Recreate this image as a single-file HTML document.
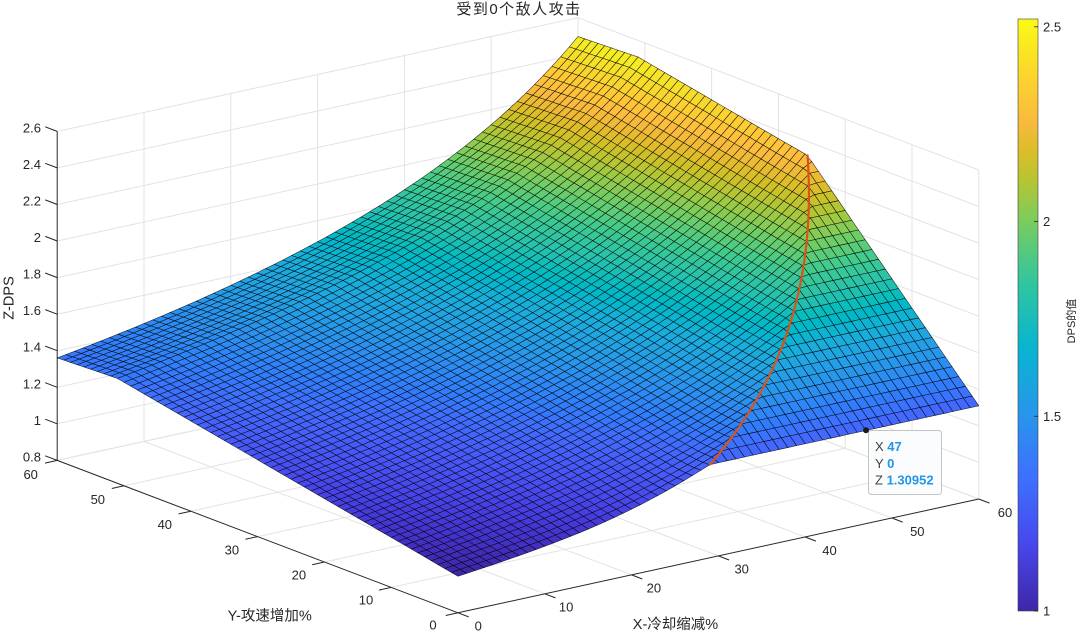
<!DOCTYPE html>
<html><head><meta charset="utf-8">
<style>
html,body{margin:0;padding:0;background:#fff;overflow:hidden;width:1080px;height:634px;}
svg{display:block;}
text{font-family:"Liberation Sans","Noto Sans CJK SC",sans-serif;fill:#262626;}
</style></head>
<body>
<svg id="chart" width="1080" height="634" viewBox="0 0 1080 634" xmlns="http://www.w3.org/2000/svg">
<defs>
<linearGradient id="cbg" x1="0" y1="0" x2="0" y2="1">
<stop offset="0" stop-color="rgb(249,251,21)"/>
<stop offset="0.111" stop-color="rgb(252,207,48)"/>
<stop offset="0.175" stop-color="rgb(248,186,61)"/>
<stop offset="0.222" stop-color="rgb(220,189,41)"/>
<stop offset="0.27" stop-color="rgb(185,196,49)"/>
<stop offset="0.333" stop-color="rgb(129,204,89)"/>
<stop offset="0.444" stop-color="rgb(49,198,159)"/>
<stop offset="0.556" stop-color="rgb(8,181,208)"/>
<stop offset="0.667" stop-color="rgb(39,150,235)"/>
<stop offset="0.778" stop-color="rgb(62,111,255)"/>
<stop offset="0.889" stop-color="rgb(71,71,235)"/>
<stop offset="1" stop-color="rgb(62,38,168)"/>
</linearGradient>
<linearGradient id="fbg" x1="0" y1="1" x2="0" y2="0">
<stop offset="0" stop-color="rgb(62,60,210)"/>
<stop offset="0.4" stop-color="rgb(45,140,240)"/>
<stop offset="0.7" stop-color="rgb(60,195,160)"/>
<stop offset="1" stop-color="rgb(249,240,30)"/>
</linearGradient>
</defs>
<rect width="1080" height="634" fill="#fff"/>

<g stroke="#e3e3e3" stroke-width="1" fill="none">
<line x1="544.8" y1="593.8" x2="144" y2="441.4"/>
<line x1="631.6" y1="574.9" x2="230.8" y2="422.5"/>
<line x1="718.4" y1="555.9" x2="317.6" y2="403.5"/>
<line x1="805.2" y1="537" x2="404.4" y2="384.6"/>
<line x1="892" y1="518" x2="491.2" y2="365.6"/>
<line x1="978.8" y1="499" x2="578" y2="346.6"/>
<line x1="391.2" y1="587.4" x2="912" y2="473.6"/>
<line x1="324.4" y1="562" x2="845.2" y2="448.2"/>
<line x1="257.6" y1="536.6" x2="778.4" y2="422.8"/>
<line x1="190.8" y1="511.2" x2="711.6" y2="397.4"/>
<line x1="124" y1="485.8" x2="644.8" y2="372"/>
<line x1="57.2" y1="460.4" x2="578" y2="346.6"/>
<line x1="144" y1="441.4" x2="144" y2="112.3"/>
<line x1="230.8" y1="422.5" x2="230.8" y2="93.4"/>
<line x1="317.6" y1="403.5" x2="317.6" y2="74.4"/>
<line x1="404.4" y1="384.6" x2="404.4" y2="55.5"/>
<line x1="491.2" y1="365.6" x2="491.2" y2="36.5"/>
<line x1="578" y1="346.6" x2="578" y2="17.6"/>
<line x1="978.8" y1="499" x2="978.8" y2="170"/>
<line x1="912" y1="473.6" x2="912" y2="144.6"/>
<line x1="845.2" y1="448.2" x2="845.2" y2="119.2"/>
<line x1="778.4" y1="422.8" x2="778.4" y2="93.8"/>
<line x1="711.6" y1="397.4" x2="711.6" y2="68.4"/>
<line x1="644.8" y1="372" x2="644.8" y2="43"/>
<polyline points="57.2,460.4 578,346.6 978.8,499"/>
<polyline points="57.2,423.8 578,310 978.8,462.4"/>
<polyline points="57.2,387.3 578,273.5 978.8,425.9"/>
<polyline points="57.2,350.7 578,236.9 978.8,389.3"/>
<polyline points="57.2,314.2 578,200.4 978.8,352.8"/>
<polyline points="57.2,277.6 578,163.8 978.8,316.2"/>
<polyline points="57.2,241 578,127.2 978.8,279.6"/>
<polyline points="57.2,204.5 578,90.7 978.8,243.1"/>
<polyline points="57.2,167.9 578,54.1 978.8,206.5"/>
<polyline points="57.2,131.4 578,17.6 978.8,170"/>
</g>

<g stroke="#262626" stroke-width="1" fill="none">
<line x1="57.2" y1="460.4" x2="57.2" y2="131.4"/>
<line x1="57.2" y1="460.4" x2="458" y2="612.8"/>
<line x1="458" y1="612.8" x2="978.8" y2="499"/>
<line x1="57.2" y1="460.4" x2="45.2" y2="455.8"/>
<line x1="57.2" y1="423.8" x2="45.2" y2="419.2"/>
<line x1="57.2" y1="387.3" x2="45.2" y2="382.7"/>
<line x1="57.2" y1="350.7" x2="45.2" y2="346.1"/>
<line x1="57.2" y1="314.2" x2="45.2" y2="309.6"/>
<line x1="57.2" y1="277.6" x2="45.2" y2="273"/>
<line x1="57.2" y1="241" x2="45.2" y2="236.4"/>
<line x1="57.2" y1="204.5" x2="45.2" y2="199.9"/>
<line x1="57.2" y1="167.9" x2="45.2" y2="163.3"/>
<line x1="57.2" y1="131.4" x2="45.2" y2="126.8"/>
<line x1="458" y1="612.8" x2="445.8" y2="615.5"/>
<line x1="391.2" y1="587.4" x2="379" y2="590.1"/>
<line x1="324.4" y1="562" x2="312.2" y2="564.7"/>
<line x1="257.6" y1="536.6" x2="245.4" y2="539.3"/>
<line x1="190.8" y1="511.2" x2="178.6" y2="513.9"/>
<line x1="124" y1="485.8" x2="111.8" y2="488.5"/>
<line x1="57.2" y1="460.4" x2="45" y2="463.1"/>
<line x1="458" y1="612.8" x2="468.7" y2="616.9"/>
<line x1="544.8" y1="593.8" x2="555.5" y2="597.9"/>
<line x1="631.6" y1="574.9" x2="642.3" y2="579"/>
<line x1="718.4" y1="555.9" x2="729.1" y2="560"/>
<line x1="805.2" y1="537" x2="815.9" y2="541.1"/>
<line x1="892" y1="518" x2="902.7" y2="522.1"/>
<line x1="978.8" y1="499" x2="989.5" y2="503.1"/>
</g>

<polygon id="fallback" points="458,576 709.7,464.6 978.8,405.8 807.5,155.3 638.1,56.9 578,36.5 448,159 317.6,241.7 57.2,357.9 117.3,378.4" fill="url(#fbg)" stroke="#333" stroke-width="0.5"/>

<g id="surf" stroke="#000" stroke-opacity="0.85" stroke-width="0.55" stroke-linejoin="round"></g>
<polyline id="redline" points="" fill="none" stroke="#D95319" stroke-width="2.2" stroke-linecap="round" stroke-linejoin="round"/>

<g font-size="13" text-anchor="end">
<text x="41" y="461.4">0.8</text>
<text x="41" y="424.8">1</text>
<text x="41" y="388.3">1.2</text>
<text x="41" y="351.7">1.4</text>
<text x="41" y="315.2">1.6</text>
<text x="41" y="278.6">1.8</text>
<text x="41" y="242">2</text>
<text x="41" y="205.5">2.2</text>
<text x="41" y="168.9">2.4</text>
<text x="41" y="132.4">2.6</text>
</g>
<g font-size="13" text-anchor="middle">
<text x="433" y="629.6">0</text>
<text x="366" y="604.5">10</text>
<text x="298.9" y="579.4">20</text>
<text x="231.9" y="554.3">30</text>
<text x="164.8" y="529.2">40</text>
<text x="97.8" y="504.1">50</text>
<text x="30.7" y="479">60</text>
<text x="478.3" y="630.6">0</text>
<text x="566.1" y="611.6">10</text>
<text x="653.9" y="592.7">20</text>
<text x="741.7" y="573.7">30</text>
<text x="829.5" y="554.8">40</text>
<text x="917.3" y="535.8">50</text>
<text x="1005" y="516.9">60</text>
</g>

<text x="519" y="14" font-size="15" text-anchor="middle" letter-spacing="1.5">受到0个敌人攻击</text>
<text x="675.5" y="629" font-size="14.5" text-anchor="middle">X-冷却缩减%</text>
<text x="269.7" y="620.5" font-size="14.5" text-anchor="middle">Y-攻速增加%</text>
<text transform="translate(13.5,298) rotate(-90)" font-size="14.5" text-anchor="middle">Z-DPS</text>

<rect x="1018" y="19" width="20" height="592" fill="url(#cbg)" stroke="#404040" stroke-width="0.6"/>
<g stroke="#262626" stroke-width="0.8">
<line x1="1038" y1="26.8" x2="1034" y2="26.8"/>
<line x1="1038" y1="221.5" x2="1034" y2="221.5"/>
<line x1="1038" y1="416.3" x2="1034" y2="416.3"/>
<line x1="1038" y1="611" x2="1034" y2="611"/>
</g>
<g font-size="13">
<text x="1043" y="31.4">2.5</text>
<text x="1043" y="226.1">2</text>
<text x="1043" y="420.9">1.5</text>
<text x="1043" y="615.6">1</text>
</g>
<text transform="translate(1075,321) rotate(-90)" font-size="11" text-anchor="middle">DPS的值</text>

<rect x="868.5" y="430.5" width="73" height="64" rx="3" ry="3" fill="#fbfcfe" fill-opacity="0.96" stroke="#c4c4c4" stroke-width="1"/>
<circle cx="866" cy="430.3" r="3" fill="#1a1a1a"/>
<g font-size="13">
<text x="875" y="451"><tspan fill="#404040">X </tspan><tspan fill="#1f96e8" font-weight="bold">47</tspan></text>
<text x="875" y="468"><tspan fill="#404040">Y </tspan><tspan fill="#1f96e8" font-weight="bold">0</tspan></text>
<text x="875" y="484.5"><tspan fill="#404040">Z </tspan><tspan fill="#1f96e8" font-weight="bold">1.30952</tspan></text>
</g>
</svg>
<script>
(function(){
var PAR=[[0.2422,0.1504,0.6603],[0.2504,0.1650,0.7076],[0.2578,0.1818,0.7511],[0.2647,0.1978,0.7952],[0.2706,0.2147,0.8364],[0.2751,0.2342,0.8710],[0.2783,0.2559,0.8991],[0.2803,0.2782,0.9221],[0.2813,0.3006,0.9414],[0.2810,0.3228,0.9579],[0.2795,0.3447,0.9717],[0.2760,0.3667,0.9829],[0.2699,0.3892,0.9906],[0.2602,0.4123,0.9952],[0.2440,0.4358,0.9988],[0.2206,0.4603,0.9973],[0.1963,0.4847,0.9892],[0.1834,0.5074,0.9798],[0.1786,0.5289,0.9682],[0.1764,0.5499,0.9520],[0.1687,0.5703,0.9359],[0.1540,0.5902,0.9218],[0.1460,0.6091,0.9079],[0.1380,0.6276,0.8973],[0.1248,0.6459,0.8883],[0.1113,0.6635,0.8763],[0.0952,0.6798,0.8598],[0.0689,0.6948,0.8394],[0.0297,0.7082,0.8163],[0.0036,0.7203,0.7917],[0.0067,0.7312,0.7660],[0.0433,0.7411,0.7394],[0.0964,0.7500,0.7120],[0.1408,0.7584,0.6842],[0.1717,0.7670,0.6554],[0.1938,0.7758,0.6251],[0.2161,0.7843,0.5923],[0.2470,0.7918,0.5567],[0.2906,0.7973,0.5188],[0.3406,0.8008,0.4789],[0.3909,0.8029,0.4354],[0.4456,0.8024,0.3909],[0.5044,0.7993,0.3480],[0.5616,0.7942,0.3045],[0.6174,0.7876,0.2612],[0.6720,0.7793,0.2227],[0.7242,0.7698,0.1910],[0.7738,0.7598,0.1646],[0.8203,0.7498,0.1535],[0.8634,0.7406,0.1596],[0.9035,0.7330,0.1774],[0.9393,0.7288,0.2100],[0.9728,0.7298,0.2394],[0.9956,0.7434,0.2371],[0.9970,0.7659,0.2199],[0.9952,0.7893,0.2028],[0.9892,0.8136,0.1885],[0.9786,0.8386,0.1766],[0.9676,0.8639,0.1643],[0.9610,0.8890,0.1537],[0.9597,0.9135,0.1423],[0.9628,0.9373,0.1265],[0.9691,0.9606,0.1064],[0.9769,0.9839,0.0805]];
function cmap(f){
  if(f<0)f=0;if(f>1)f=1;
  var t=f*63,i=Math.floor(t);if(i>=63)i=62;var a=t-i,c0=PAR[i],c1=PAR[i+1];
  return 'rgb('+Math.round(255*(c0[0]+(c1[0]-c0[0])*a))+','+Math.round(255*(c0[1]+(c1[1]-c0[1])*a))+','+Math.round(255*(c0[2]+(c1[2]-c0[2])*a))+')';
}
var X0=458,AX=8.68,BY=6.68,Y0=759,CX=1.896,DY=2.54,KZ=182.8;
function sx(x,y){return X0+AX*x-BY*y;}
function sy(x,y,z){return Y0-CX*x-DY*y-KZ*z;}
var sig=0.0302,N=0.2427,B=4.396,C=1.409;
function sp(y){return y<=51?1+sig*y:(1+51*sig)-(y-51)*0.006;}
function Z(x,y){
  var u=1/(1-x/100),s=sp(y),r=(u/C)/s;
  var z=N*(s+B*Math.min(r*s,s));
  if(r<1){var r0=1/(C*s),t=(r-r0)/(1-r0);if(t>0&&t<1)z-=0.032*Math.sin(Math.PI*t)*Math.exp(-y/12);}
  return z;
}
var n=60,Zs=[],P=[],i,j;
for(i=0;i<=n;i++){Zs[i]=[];P[i]=[];
  for(j=0;j<=n;j++){var z=Z(j,i);Zs[i][j]=z;P[i][j]=sx(j,i).toFixed(2)+' '+sy(j,i,z).toFixed(2);}}
var quads=[];
for(i=0;i<n;i++)for(j=0;j<n;j++)quads.push([i,j,CX*(j+0.5)+DY*(i+0.5)]);
quads.sort(function(a,b){return b[2]-a[2];});
var zmin=1.0,zmax=2.52,out=[];
for(var q=0;q<quads.length;q++){
  i=quads[q][0];j=quads[q][1];
  out.push('<path d="M'+P[i][j]+'L'+P[i][j+1]+'L'+P[i+1][j+1]+'L'+P[i+1][j]+'Z" fill="'+cmap((Zs[i][j]-zmin)/(zmax-zmin))+'"/>');
}
document.getElementById('surf').innerHTML=out.join('');
var fb=document.getElementById('fallback');if(fb)fb.parentNode.removeChild(fb);
var pts=[],yEnd=(2.5/C-1)/sig;
for(var y=0;y<yEnd;y+=0.2){var s=sp(y),x=100*(1-1/(C*s));pts.push(sx(x,y).toFixed(2)+','+sy(x,y,N*(1+B)*s).toFixed(2));}
var se=sp(yEnd);pts.push(sx(60,yEnd).toFixed(2)+','+sy(60,yEnd,N*(1+B)*se).toFixed(2));
document.getElementById('redline').setAttribute('points',pts.join(' '));
})();
</script>
</body></html>
